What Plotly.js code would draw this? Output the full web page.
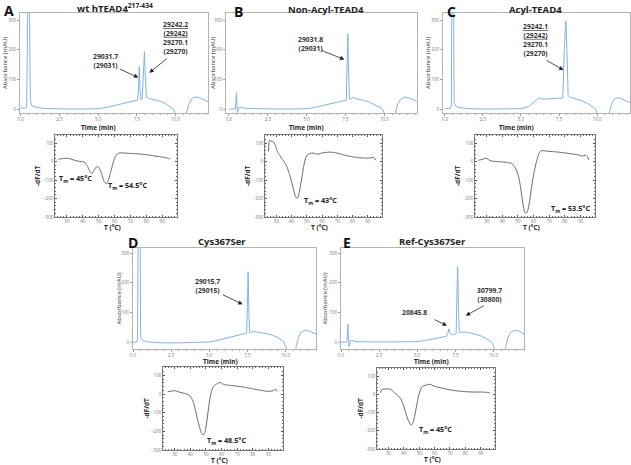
<!DOCTYPE html>
<html><head><meta charset="utf-8">
<script src="https://cdn.plot.ly/plotly-3.0.1.min.js"></script>
<style>html,body{margin:0;padding:0;background:#fff}#chart{width:631px;height:465px}</style>
</head><body><div id="chart"></div>
<script>
// ---------- Chromatogram data (time in min, absorbance in mAU) ----------
const timeA = [0,0.3,0.38,0.42,0.46,0.5,0.54,0.58,0.62,0.7,0.85,1.0,1.5,2.0,3.0,4.0,5.0,5.5,6.0,6.5,7.0,7.4,7.55,7.62,7.66,7.7,7.76,7.85,7.93,7.99,8.05,8.12,8.25,8.5,8.8,9.1,9.4,9.65,9.85,10.0,10.1,10.6,10.7,10.85,11.0,11.2,11.4,11.7,12.0,12.1];
const absA  = [3,3,8,200,800,1000,800,200,30,12,8,5,2,1,0,0,1,5,11,17,23,28,30,80,143,70,32,33,120,193,110,40,36,33,30,25,17,8,0,-15,-60,-60,-15,15,30,40,40,35,27,24];

const timeB = [0,0.4,0.45,0.48,0.51,0.54,0.58,0.65,0.75,1.0,2,3,4,5,5.5,6,6.5,7,7.4,7.55,7.6,7.65,7.7,7.75,7.85,8.0,8.1,8.3,8.6,9.0,9.4,9.7,9.9,10.05,10.15,10.55,10.7,10.85,11.0,11.3,11.6,12.0,12.1];
const absB  = [0,0,20,55,20,-12,-5,5,6,2,0,0,0,1,5,11,17,23,28,30,150,253,120,34,33,40,36,34,30,24,15,6,-2,-20,-60,-60,-15,15,30,40,37,28,22];

const timeC = [0,0.35,0.42,0.46,0.5,0.55,0.6,0.7,0.85,1.2,2,3,4,5,5.5,6.0,6.2,6.35,6.6,7.0,7.5,7.75,7.85,7.95,8.02,8.1,8.2,8.35,8.6,9.0,9.4,9.7,9.9,10.05,10.15,10.7,10.8,10.95,11.1,11.35,11.7,12.0,12.2];
const absC  = [2,2,10,600,1000,600,20,10,6,3,0,0,0,1,8,30,38,33,34,35,36,37,200,297,200,45,40,38,35,28,18,8,0,-20,-60,-60,-15,15,32,38,33,25,22];

const timeD = [0,0.25,0.3,0.35,0.4,0.45,0.5,0.55,0.65,1.0,2,3,4,5,5.5,6,6.5,7,7.35,7.45,7.5,7.55,7.6,7.65,7.75,7.9,8.1,8.4,8.8,9.2,9.5,9.75,9.9,10.05,10.15,10.6,10.7,10.85,11.0,11.3,11.6,12.0,12.1];
const absD  = [0,0,10,600,1000,600,20,12,5,0,-3,-3,-2,0,5,11,17,23,28,30,120,237,100,32,33,35,34,32,28,22,15,6,0,-20,-60,-60,-15,15,32,40,36,27,24];

const timeE = [0,0.38,0.42,0.45,0.48,0.52,0.56,0.62,0.7,0.85,1.2,2,3,4,5,5.5,6,6.5,6.9,7.0,7.08,7.15,7.25,7.4,7.55,7.6,7.65,7.7,7.76,7.9,8.1,8.4,8.8,9.2,9.5,9.75,9.9,10.05,10.15,10.7,10.8,10.95,11.1,11.4,11.7,12.0,12.1];
const absE  = [0,0,20,60,20,-15,-10,5,6,3,1,0,0,0,1,5,10,15,19,30,45,30,24,26,28,150,254,120,32,33,34,32,27,20,13,5,-2,-20,-60,-60,-15,15,32,40,36,27,24];

// ---------- DSF data (temperature in °C, -dF/dT) ----------
const tempA = [24.5,26,28,30,32,34,36,38,40,41.5,43,44,45,46,47,48,49,50,51,52,53,54,54.8,55.5,56.5,57.5,58.5,59.5,60.5,61.5,62.5,64,66,68,70,74,78,82,86,89,92,94,95];
const dfdtA = [14,15,18,19,16,10,5,2,0,-6,-25,-45,-60,-62,-50,-33,-27,-30,-45,-70,-98,-115,-119,-112,-90,-58,-25,5,28,40,46,48,47,46,45,43,40,36,30,27,22,18,12];

const tempB = [24.8,25.5,26.5,28,29,30,31,32.5,34,35.5,37,38.5,40,41.5,42.5,43.3,44,44.8,45.8,47,48,49,50,52,54,56,58,60,62,65,68,72,76,80,84,88,91,93,94.5,95.2];
const dfdtB = [55,115,112,108,95,70,50,30,12,-5,-30,-65,-110,-160,-188,-198,-195,-175,-130,-70,-20,15,35,45,47,42,42,48,50,52,50,42,33,27,22,20,20,24,18,8];

const tempC = [24.6,26,28,29.5,31,33,35,38,41,44,46,47.5,49,50.5,51.5,52.5,53.5,54.5,55.5,56.5,57.5,58.5,59.5,60.5,61.5,62.5,63.5,64.5,66,68,72,76,80,84,88,90,91.5,93,94.5,95.3];
const dfdtC = [8,10,15,20,12,4,2,0,-2,-5,-10,-22,-45,-85,-130,-190,-245,-275,-278,-258,-210,-150,-95,-50,-10,20,45,58,60,58,55,52,48,43,38,33,30,36,28,10];

const tempD = [25.5,27,29,31,33,35,37,39,40.5,42,43.5,45,46.5,47.5,48.5,49.5,50.5,51.5,52.5,53.5,55,57,59,60.5,62,65,68,72,76,80,84,88,91,93,94.5,95.3];
const dfdtD = [13,14,18,16,10,6,2,-5,-18,-45,-95,-150,-195,-215,-218,-200,-150,-85,-25,15,42,55,63,55,50,47,44,40,35,28,22,16,15,18,26,14];

const tempE = [24.7,25.5,27,29,31,32.5,34,36,38,39.5,41,42.5,44,45,46,47,48,49,50,51.5,53,55,57,59,62,66,70,75,80,85,90,93,95,96];
const dfdtE = [9,25,29,30,30,20,8,-5,-25,-55,-95,-135,-162,-168,-155,-120,-75,-30,5,38,48,52,56,47,40,32,25,19,15,13,13,12,10,8];

// ---------- Tick labels ----------
const timeTicks = [0, 2.5, 5, 7.5, 10];
const timeTickText = ['0.0','2.5','5.0','7.5','10.0'];
const absTicks = [0, 100, 200, 300];
const tempTicks = [30,40,50,60,70,80,90];
const dfdtTicks = [-300,-200,-100,0,100];

// ---------- Texts ----------
const panelLetters = ['A','B','C','D','E'];
const panelTitles = ['wt hTEAD4<sup>217-434</sup>','Non-Acyl-TEAD4','Acyl-TEAD4','Cys367Ser','Ref-Cys367Ser'];
const tmLabels = ['T<sub>m</sub> = 45°C','T<sub>m</sub> = 54.5°C','T<sub>m</sub> = 43°C','T<sub>m</sub> = 53.5°C','T<sub>m</sub> = 48.5°C','T<sub>m</sub> = 45°C'];
const massLabels = [
  '29031.7<br>(29031)',
  '<u>29242.2</u><br><u>(29242)</u><br>29270.1<br>(29270)',
  '29031.8<br>(29031)',
  '<u>29242.1</u><br><u>(29242)</u><br>29270.1<br>(29270)',
  '29015.7<br>(29015)',
  '20845.8',
  '30799.7<br>(30800)'
];

// ---------- Layout geometry (pixels) ----------
const W = 631, H = 465;
const FONT = 'Open Sans, Liberation Sans, Arial, sans-serif';
function dx(l, r) { return [l / W, r / W]; }
function dy(t, b) { return [1 - b / H, 1 - t / H]; }
function px(x) { return x / W; }
function py(y) { return 1 - y / H; }

const chromaBoxes = [
  {l:20,  r:208, t:13,  b:113, xr:[-0.05,12.1], yr:[-13.5,323.6]},
  {l:226, r:417, t:13,  b:113, xr:[-0.19,12.1], yr:[-13.5,323.6]},
  {l:443, r:630, t:13,  b:113, xr:[-0.13,12.17], yr:[-13.5,323.6]},
  {l:133, r:316, t:248, b:349, xr:[0,12.0], yr:[-23.6,317]},
  {l:341, r:524, t:248, b:349, xr:[0,12.0], yr:[-23.6,317]}
];
const dsfBoxes = [
  {l:55,  r:177, t:135, b:217},
  {l:265, r:382, t:135, b:217},
  {l:475, r:595, t:135, b:217},
  {l:163, r:283, t:367, b:450},
  {l:377, r:495, t:368, b:449}
];

const chromaX = [timeA, timeB, timeC, timeD, timeE];
const chromaY = [absA, absB, absC, absD, absE];
const dsfX = [tempA, tempB, tempC, tempD, tempE];
const dsfY = [dfdtA, dfdtB, dfdtC, dfdtD, dfdtE];

const traces = [];
const layout = {
  width: W, height: H,
  margin: {l:0, r:0, t:0, b:0},
  paper_bgcolor: '#fff', plot_bgcolor: '#fff',
  showlegend: false,
  font: {family: FONT, color: '#333'},
  annotations: []
};

function axName(i) { return i === 0 ? '' : String(i + 1); }

chromaBoxes.forEach((b, i) => {
  const n = axName(i);
  traces.push({x: chromaX[i], y: chromaY[i], xaxis: 'x' + n, yaxis: 'y' + n,
    type: 'scatter', mode: 'lines', line: {color: '#83b2e6', width: 1}, hoverinfo: 'skip'});
  layout['xaxis' + n] = {domain: dx(b.l, b.r), anchor: 'y' + n, range: b.xr,
    showgrid: false, zeroline: false, showline: true, linecolor: '#b4b4b4', linewidth: 1, mirror: true,
    tickmode: 'array', tickvals: timeTicks, ticktext: timeTickText, ticks: 'outside', ticklen: 2,
    tickcolor: '#999', tickfont: {size: 4.5, color: '#777'},
    minor: {ticks: 'outside', ticklen: 1.2, dtick: 0.5, tickcolor: '#aaa'}};
  layout['yaxis' + n] = {domain: dy(b.t, b.b), anchor: 'x' + n, range: b.yr,
    showgrid: false, zeroline: false, showline: true, linecolor: '#b4b4b4', linewidth: 1, mirror: true,
    tickmode: 'array', tickvals: absTicks, ticks: 'outside', ticklen: 2, tickcolor: '#999',
    tickfont: {size: 4.5, color: '#777'}};
});

dsfBoxes.forEach((b, i) => {
  const n = axName(i + 5);
  traces.push({x: dsfX[i], y: dsfY[i], xaxis: 'x' + n, yaxis: 'y' + n,
    type: 'scatter', mode: 'lines', line: {color: '#6a6a6a', width: 1, shape: 'spline', smoothing: 0.6}, hoverinfo: 'skip'});
  layout['xaxis' + n] = {domain: dx(b.l, b.r), anchor: 'y' + n, range: [22.5, 99.3],
    showgrid: false, zeroline: false, showline: true, linecolor: '#555', linewidth: 0.8, mirror: 'allticks',
    tickmode: 'array', tickvals: tempTicks, ticks: 'inside', ticklen: 2, tickcolor: '#555',
    tickfont: {size: 4.5, color: '#777'},
    minor: {ticks: 'inside', ticklen: 1.3, dtick: 2, tickcolor: '#666'}};
  layout['yaxis' + n] = {domain: dy(b.t, b.b), anchor: 'x' + n, range: [-300, 145],
    showgrid: false, zeroline: false, showline: true, linecolor: '#555', linewidth: 0.8, mirror: 'allticks',
    tickmode: 'array', tickvals: dfdtTicks, ticks: 'inside', ticklen: 2, tickcolor: '#555',
    tickfont: {size: 4.5, color: '#777'},
    minor: {ticks: 'inside', ticklen: 1.3, dtick: 20, tickcolor: '#666'}};
});

const A = layout.annotations;
function paperText(text, x, y, size, opts) {
  A.push(Object.assign({xref: 'paper', yref: 'paper', x: px(x), y: py(y), text: text, showarrow: false,
    xanchor: 'center', yanchor: 'middle', font: {family: FONT, size: size, color: '#222'}}, opts || {}));
}

// Panel letters & titles
const letterPos = [[2,1],[232,2],[445,2],[126,233],[341,233]];
const titlePos = [[115,8],[326,9],[535,9],[222,241],[432,241]];
panelLetters.forEach((t, i) => paperText(t, letterPos[i][0], letterPos[i][1], 14,
  {xanchor: 'left', yanchor: 'top', height: 14, valign: 'middle',
   font: {family: FONT, size: 14, color: '#111', weight: 'bold'}}));
panelTitles.forEach((t, i) => paperText(t, titlePos[i][0], titlePos[i][1], 9.5,
  {font: {family: FONT, size: 9.5, color: '#222', weight: 'bold'}}));

// Axis titles
const absTitleX = [5, 213, 428, 118, 324];
const timeTitle = [[98,127],[306,127],[516,127],[220,361],[431,361]];
chromaBoxes.forEach((b, i) => {
  paperText('Absorbance (mAU)', absTitleX[i], (b.t + b.b) / 2, 6, {textangle: -90,
    font: {family: FONT, size: 6, color: '#333'}});
  paperText('Time (min)', timeTitle[i][0], timeTitle[i][1], 6.5,
    {font: {family: FONT, size: 6.5, color: '#222', weight: 'bold'}});
});
dsfBoxes.forEach((b, i) => {
  paperText('-dF/dT', b.l - 17, (b.t + b.b) / 2, 6.5, {textangle: -90,
    font: {family: FONT, size: 6.5, color: '#222', weight: 'bold'}});
  paperText('T (°C)', (b.l + b.r) / 2 - 4, b.b + 10, 6.5,
    {font: {family: FONT, size: 6.5, color: '#222', weight: 'bold'}});
});

// Mass labels and arrows (in data coordinates of each chromatogram)
function dataText(text, ax, x, y, opts) {
  A.push(Object.assign({xref: 'x' + ax, yref: 'y' + ax, x: x, y: y, text: text, showarrow: false,
    xanchor: 'center', yanchor: 'middle',
    font: {family: FONT, size: 6.8, color: '#333', weight: 'bold'}}, opts || {}));
}
function arrow(ax, x0, y0, x1, y1) {
  A.push({xref: 'x' + ax, yref: 'y' + ax, axref: 'x' + ax, ayref: 'y' + ax,
    x: x1, y: y1, ax: x0, ay: y0, text: '', showarrow: true,
    arrowhead: 2, arrowsize: 1.1, arrowwidth: 0.8, arrowcolor: '#222'});
}
dataText(massLabels[0], '', 5.45, 162); arrow('', 6.3, 137, 7.6, 106);
dataText(massLabels[1], '', 9.97, 241); arrow('', 9.53, 174, 8.31, 122);
dataText(massLabels[2], '2', 5.27, 218); arrow('2', 5.86, 199, 7.43, 167);
dataText(massLabels[3], '3', 5.97, 232); arrow('3', 6.58, 167, 7.8, 131);
dataText(massLabels[4], '4', 4.9, 189); arrow('4', 5.78, 162, 7.19, 127);
dataText(massLabels[5], '5', 4.84, 100); arrow('5', 6.03, 78, 6.95, 55);
dataText(massLabels[6], '5', 9.74, 158); arrow('5', 9.47, 125, 8.18, 89);

// Tm labels (in DSF data coordinates)
const tmPos = [['6',24,-90],['6',54.5,-130],['7',47,-210],['8',70,-255],['9',49.5,-250],['10',48.5,-195]];
tmPos.forEach((p, i) => {
  A.push({xref: 'x' + p[0], yref: 'y' + p[0], x: p[1], y: p[2], text: tmLabels[i], showarrow: false,
    xanchor: 'left', yanchor: 'middle', font: {family: FONT, size: 7.2, color: '#222', weight: 'bold'}});
});

Plotly.newPlot('chart', traces, layout, {staticPlot: true, displayModeBar: false});
</script>
</body></html>
